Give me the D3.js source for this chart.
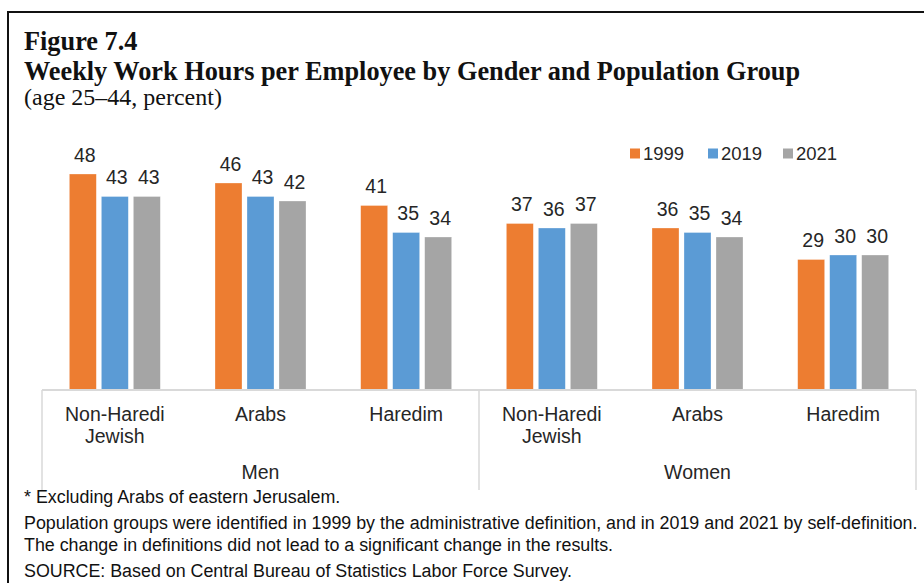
<!DOCTYPE html>
<html>
<head>
<meta charset="utf-8">
<script src="https://cdn.jsdelivr.net/npm/d3@7"></script>
<style>
  html, body { margin: 0; padding: 0; background: #fff; }
  svg { display: block; }
</style>
</head>
<body>
<svg id="chart" width="924" height="583"></svg>
<script>
// Weekly work hours per employee, age 25–44
const genders = ["Men", "Women"];
const groups = ["Non-Haredi Jewish", "Arabs", "Haredim"];
const groupLines = [["Non-Haredi", "Jewish"], ["Arabs"], ["Haredim"]];
const years = ["1999", "2019", "2021"];
const values1999 = [48, 46, 41, 37, 36, 29];
const values2019 = [43, 43, 35, 36, 35, 30];
const values2021 = [43, 42, 34, 37, 34, 30];
const colors = ["#ED7D31", "#5B9BD5", "#A5A5A5"];
const footnotes = [
  "* Excluding Arabs of eastern Jerusalem.",
  "Population groups were identified in 1999 by the administrative definition, and in 2019 and 2021 by self-definition.",
  "The change in definitions did not lead to a significant change in the results.",
  "SOURCE: Based on Central Bureau of Statistics Labor Force Survey."
];

const seriesValues = [values1999, values2019, values2021];
const categories = [];
genders.forEach((g, gi) => groups.forEach((p, pi) => categories.push({ key: g + "|" + p, gender: g, gi, pi })));

const svg = d3.select("#chart");
const sans = "'Liberation Sans', Arial, sans-serif";
const serif = "'Liberation Serif', 'Times New Roman', serif";

// Frame lines (top and left)
svg.append("line").attr("x1", 8).attr("x2", 924).attr("y1", 12).attr("y2", 12)
  .attr("stroke", "#111").attr("stroke-width", 2);
svg.append("line").attr("x1", 8).attr("x2", 8).attr("y1", 11).attr("y2", 583)
  .attr("stroke", "#111").attr("stroke-width", 2);

// Titles
const title = svg.append("g").attr("font-family", serif).attr("fill", "#111");
title.append("text").attr("x", 24).attr("y", 50).attr("font-size", 26.3).attr("font-weight", "bold").text("Figure 7.4");
title.append("text").attr("x", 24).attr("y", 80).attr("font-size", 26.3).attr("font-weight", "bold")
  .text("Weekly Work Hours per Employee by Gender and Population Group");
title.append("text").attr("x", 24).attr("y", 105).attr("font-size", 24).text("(age 25–44, percent)");

// Scales
const plotLeft = 42, plotRight = 916, baseY = 390;
const x0 = d3.scaleBand().domain(categories.map(d => d.key)).range([plotLeft, plotRight]).padding(0);
const x1 = d3.scaleBand().domain(years).range([0, 96]).paddingInner(5 / 32).paddingOuter(2.5 / 32);
const y = d3.scaleLinear().domain([0, 60]).range([baseY, baseY - 270]);

// Bars
const barData = [];
categories.forEach((c, ci) => years.forEach((yr, si) => barData.push({ c, ci, yr, si, v: seriesValues[si][ci] })));
const barX = d => x0(d.c.key) + x0.bandwidth() / 2 - 48 + x1(d.yr);

svg.append("g").selectAll("rect").data(barData).join("rect")
  .attr("x", barX)
  .attr("y", d => y(d.v))
  .attr("width", x1.bandwidth())
  .attr("height", d => y(0) - y(d.v))
  .attr("fill", d => colors[d.si])
  .attr("stroke", "#fff").attr("stroke-opacity", 0.5).attr("stroke-width", 0.6);

// Value labels
svg.append("g").attr("font-family", sans).attr("font-size", 19.5).attr("fill", "#262626")
  .selectAll("text").data(barData).join("text")
  .attr("x", d => barX(d) + x1.bandwidth() / 2 + 2)
  .attr("y", d => y(d.v) - 12.5)
  .attr("text-anchor", "middle")
  .text(d => d.v);

// Category axis
const axis = svg.append("g").attr("stroke", "#d9d9d9");
axis.append("line").attr("x1", plotLeft).attr("x2", plotRight).attr("y1", baseY).attr("y2", baseY).attr("stroke-width", 2);
const dividers = [plotLeft, x0(categories[3].key), plotRight];
axis.selectAll("line.div").data(dividers).join("line").attr("class", "div")
  .attr("x1", d => d).attr("x2", d => d).attr("y1", baseY).attr("y2", 490).attr("stroke-width", 1.5);

const catLabels = svg.append("g").attr("font-family", sans).attr("font-size", 19.5).attr("fill", "#262626")
  .attr("text-anchor", "middle");
categories.forEach(c => {
  const cx = x0(c.key) + x0.bandwidth() / 2;
  const t = catLabels.append("text").attr("x", cx).attr("y", 421);
  groupLines[c.pi].forEach((line, li) => {
    t.append("tspan").attr("x", cx).attr("dy", li === 0 ? 0 : 22).text(line);
  });
});
genders.forEach((g, gi) => {
  const first = x0(categories[gi * 3].key);
  const last = x0(categories[gi * 3 + 2].key) + x0.bandwidth();
  catLabels.append("text").attr("x", (first + last) / 2).attr("y", 479).text(g);
});

// Legend
const legend = svg.append("g").attr("font-family", sans).attr("font-size", 18.5).attr("fill", "#262626");
const legendX = [630, 708, 783];
years.forEach((yr, i) => {
  legend.append("rect").attr("x", legendX[i]).attr("y", 148.5).attr("width", 10).attr("height", 10).attr("fill", colors[i]);
  legend.append("text").attr("x", legendX[i] + 13).attr("y", 159.5).text(yr);
});

// Footnotes (slightly condensed)
const notes = svg.append("g").attr("font-family", sans).attr("font-size", 19).attr("fill", "#111");
const noteY = [503, 529, 551, 577];
const noteTexts = notes.selectAll("text").data(footnotes).join("text")
  .attr("x", 0).attr("y", (d, i) => noteY[i]).text(d => d);
const longest = noteTexts.nodes()[1].getComputedTextLength();
const sx = (918 - 24) / longest;
notes.attr("transform", `translate(24,0) scale(${sx},1)`);
</script>
</body>
</html>
